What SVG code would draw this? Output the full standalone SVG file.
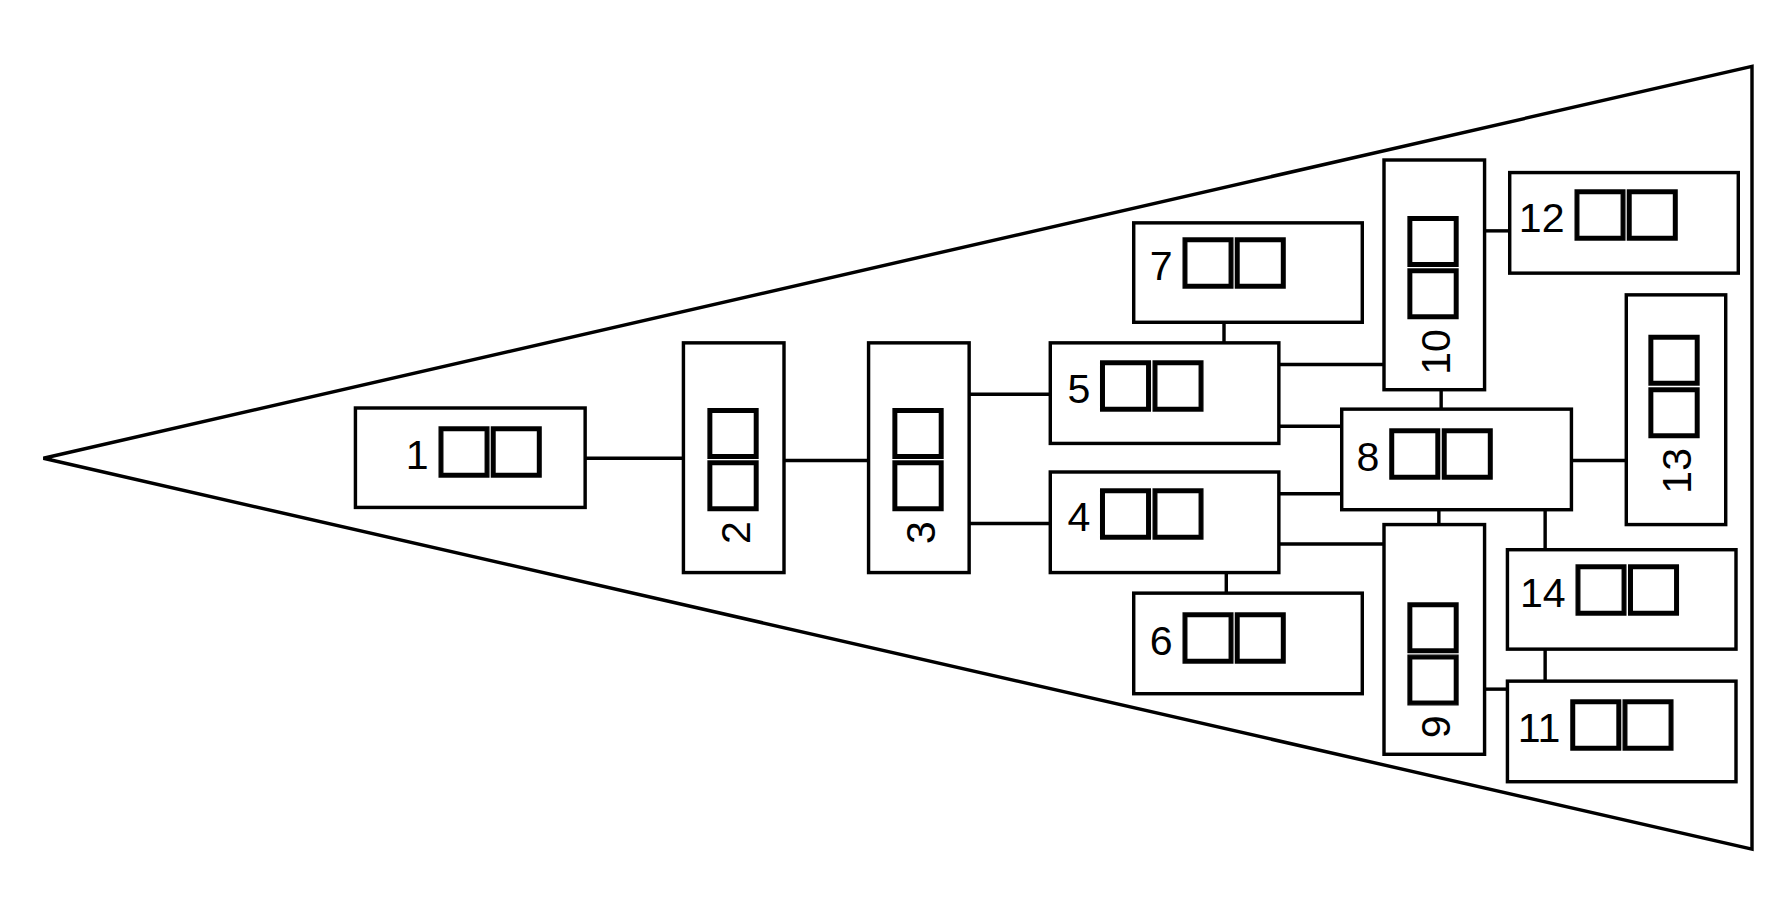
<svg xmlns="http://www.w3.org/2000/svg" width="1792" height="920" viewBox="0 0 1792 920">
<style>
rect{fill:#fff;stroke:#000;stroke-width:3}
line,polygon{stroke:#000;stroke-width:3;fill:none}
text{font-family:"Liberation Sans",Arial,sans-serif;font-size:36px;fill:#000}
.s{font-family:"DejaVu Sans",sans-serif;font-size:57px;font-weight:bold;letter-spacing:-8px;stroke:#000;stroke-width:1.2}
</style>
<rect x="0" y="0" width="1792" height="920" style="stroke:none"/>
<g transform="scale(1.142857)">
<polygon id="frame" points="38,401 1533,58 1533,743"/>
<g id="connectors">
<line x1="512" y1="401" x2="598" y2="401"/>
<line x1="686" y1="403" x2="760" y2="403"/>
<line x1="848" y1="345" x2="919" y2="345"/>
<line x1="848" y1="458" x2="919" y2="458"/>
<line x1="1071" y1="282" x2="1071" y2="300"/>
<line x1="1073" y1="501" x2="1073" y2="519"/>
<line x1="1119" y1="319" x2="1211" y2="319"/>
<line x1="1119" y1="373" x2="1174" y2="373"/>
<line x1="1119" y1="432" x2="1174" y2="432"/>
<line x1="1119" y1="476" x2="1211" y2="476"/>
<line x1="1261" y1="341" x2="1261" y2="358"/>
<line x1="1259" y1="446" x2="1259" y2="459"/>
<line x1="1299" y1="202" x2="1321" y2="202"/>
<line x1="1375" y1="403" x2="1423" y2="403"/>
<line x1="1352" y1="446" x2="1352" y2="481"/>
<line x1="1352" y1="568" x2="1352" y2="596"/>
<line x1="1299" y1="603" x2="1319" y2="603"/>
</g>
<g id="n1"><rect x="311" y="357" width="201" height="87"/><text x="355" y="410">1<tspan class="s" dx="4">□□</tspan></text></g>
<g id="n2"><rect x="598" y="300" width="88" height="201"/><text transform="translate(656,476) rotate(-90)">2<tspan class="s" dx="4">□□</tspan></text></g>
<g id="n3"><rect x="760" y="300" width="88" height="201"/><text transform="translate(818,476) rotate(-90)">3<tspan class="s" dx="4">□□</tspan></text></g>
<g id="n5"><rect x="919" y="300" width="200" height="88"/><text x="934" y="353">5<tspan class="s" dx="4">□□</tspan></text></g>
<g id="n4"><rect x="919" y="413" width="200" height="88"/><text x="934" y="465">4<tspan class="s" dx="4">□□</tspan></text></g>
<g id="n7"><rect x="992" y="195" width="200" height="87"/><text x="1006" y="245">7<tspan class="s" dx="4">□□</tspan></text></g>
<g id="n6"><rect x="992" y="519" width="200" height="88"/><text x="1006" y="573">6<tspan class="s" dx="4">□□</tspan></text></g>
<g id="n10"><rect x="1211" y="140" width="88" height="201"/><text transform="translate(1269,328) rotate(-90)">10<tspan class="s" dx="4">□□</tspan></text></g>
<g id="n12"><rect x="1321" y="151" width="200" height="88"/><text x="1329" y="203">12<tspan class="s" dx="4">□□</tspan></text></g>
<g id="n8"><rect x="1174" y="358" width="201" height="88"/><text x="1187" y="412">8<tspan class="s" dx="4">□□</tspan></text></g>
<g id="n13"><rect x="1423" y="258" width="87" height="201"/><text transform="translate(1480,432) rotate(-90)">13<tspan class="s" dx="4">□□</tspan></text></g>
<g id="n9"><rect x="1211" y="459" width="88" height="201"/><text transform="translate(1269,646) rotate(-90)">9<tspan class="s" dx="4">□□</tspan></text></g>
<g id="n14"><rect x="1319" y="481" width="200" height="87"/><text x="1330" y="531">14<tspan class="s" dx="4">□□</tspan></text></g>
<g id="n11"><rect x="1319" y="596" width="200" height="88"/><text x="1328" y="649">11<tspan class="s" dx="4">□□</tspan></text></g>
</g>
</svg>
